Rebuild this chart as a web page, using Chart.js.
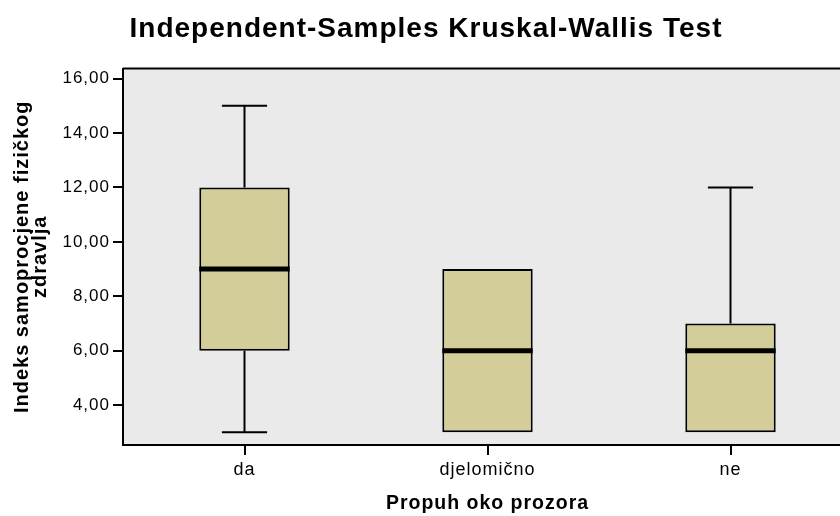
<!DOCTYPE html>
<html>
<head>
<meta charset="utf-8">
<script src="https://cdn.jsdelivr.net/npm/chart.js@4"></script>
<style>
  html, body { margin: 0; padding: 0; background: #fff; overflow: hidden; }
  #wrap { width: 852px; height: 516px; }
</style>
</head>
<body>
<div id="wrap"><canvas id="kwChart" width="852" height="516"></canvas></div>
<script>
const categories = ['da', 'djelomično', 'ne'];
const whiskerLow = [3, 3, 3];
const q1 = [6, 3, 3];
const median = [9, 6, 6];
const q3 = [12, 9, 7];
const whiskerHigh = [15, 9, 12];
const yTicks = [4, 6, 8, 10, 12, 14, 16];

const fontFamily = '"Liberation Sans", Arial, sans-serif';

// SPSS text is spaced a bit wider than plain Arial
const textSpacing = {
  id: 'textSpacing',
  beforeLayout(chart) { chart.ctx.letterSpacing = '1px'; },
  beforeDraw(chart) { chart.ctx.letterSpacing = '1px'; }
};

// grey plot background + top frame line
const plotFrame = {
  id: 'plotFrame',
  beforeDraw(chart) {
    const { ctx, chartArea: a } = chart;
    ctx.save();
    ctx.fillStyle = '#eaeaea';
    ctx.fillRect(a.left, a.top, a.right - a.left, a.bottom - a.top);
    ctx.strokeStyle = '#000';
    ctx.lineWidth = 2;
    ctx.beginPath();
    ctx.moveTo(a.left, a.top);
    ctx.lineTo(a.right, a.top);
    ctx.stroke();
    ctx.restore();
  }
};

// whiskers and medians drawn on top of the floating bars
const boxWhiskers = {
  id: 'boxWhiskers',
  afterDatasetsDraw(chart) {
    const { ctx } = chart;
    const y = chart.scales.y;
    const bars = chart.getDatasetMeta(0).data;
    ctx.save();
    ctx.strokeStyle = '#000';
    bars.forEach((bar, i) => {
      const half = bar.width / 2;
      const cap = half / 2;
      ctx.lineWidth = 2;
      if (whiskerHigh[i] > q3[i]) {
        ctx.beginPath();
        ctx.moveTo(bar.x, y.getPixelForValue(q3[i]));
        ctx.lineTo(bar.x, y.getPixelForValue(whiskerHigh[i]));
        ctx.moveTo(bar.x - cap, y.getPixelForValue(whiskerHigh[i]));
        ctx.lineTo(bar.x + cap, y.getPixelForValue(whiskerHigh[i]));
        ctx.stroke();
      }
      if (whiskerLow[i] < q1[i]) {
        ctx.beginPath();
        ctx.moveTo(bar.x, y.getPixelForValue(q1[i]));
        ctx.lineTo(bar.x, y.getPixelForValue(whiskerLow[i]));
        ctx.moveTo(bar.x - cap, y.getPixelForValue(whiskerLow[i]));
        ctx.lineTo(bar.x + cap, y.getPixelForValue(whiskerLow[i]));
        ctx.stroke();
      }
      ctx.lineWidth = 5;
      ctx.beginPath();
      ctx.moveTo(bar.x - half, y.getPixelForValue(median[i]));
      ctx.lineTo(bar.x + half, y.getPixelForValue(median[i]));
      ctx.stroke();
    });
    ctx.restore();
  }
};

new Chart(document.getElementById('kwChart'), {
  type: 'bar',
  data: {
    labels: categories,
    datasets: [{
      data: categories.map((c, i) => [q1[i], q3[i]]),
      backgroundColor: '#d3ce99',
      borderColor: '#000',
      borderWidth: 2,
      borderSkipped: false,
      barPercentage: 0.372,
      categoryPercentage: 1
    }]
  },
  options: {
    responsive: false,
    animation: false,
    devicePixelRatio: 1,
    layout: { padding: 0 },
    plugins: {
      legend: { display: false },
      tooltip: { enabled: false },
      title: {
        display: true,
        text: 'Independent-Samples Kruskal-Wallis Test',
        color: '#000',
        font: { family: fontFamily, size: 28, weight: 'bold', lineHeight: 1.2 },
        padding: { top: 12, bottom: 23 }
      }
    },
    scales: {
      x: {
        offset: true,
        grid: { offset: false, drawOnChartArea: false, drawTicks: true, tickLength: 10, color: '#000', lineWidth: 2 },
        border: { display: true, color: '#000', width: 2 },
        ticks: { color: '#000', font: { family: fontFamily, size: 18 }, padding: 4 },
        title: {
          display: true,
          text: 'Propuh oko prozora',
          color: '#000',
          font: { family: fontFamily, size: 19.5, weight: 'bold', lineHeight: 1.2 },
          padding: { top: 1, bottom: 1 }
        },
        afterFit(scale) { scale.height = 71; }
      },
      y: {
        min: 2.53,
        max: 16.37,
        afterBuildTicks(scale) { scale.ticks = yTicks.map(v => ({ value: v })); },
        grid: { drawOnChartArea: false, drawTicks: true, tickLength: 10, color: '#000', lineWidth: 2 },
        border: { display: true, color: '#000', width: 2 },
        ticks: {
          color: '#000',
          font: { family: fontFamily, size: 17 },
          padding: 3,
          callback: v => v.toFixed(2).replace('.', ',')
        },
        title: {
          display: true,
          text: ['Indeks samoprocjene fizičkog', 'zdravlja'],
          color: '#000',
          font: { family: fontFamily, size: 20, weight: 'bold', lineHeight: 0.9 },
          padding: { top: 13, bottom: 4 }
        },
        afterFit(scale) { scale.width = 123; }
      }
    }
  },
  plugins: [textSpacing, plotFrame, boxWhiskers]
});
</script>
</body>
</html>
